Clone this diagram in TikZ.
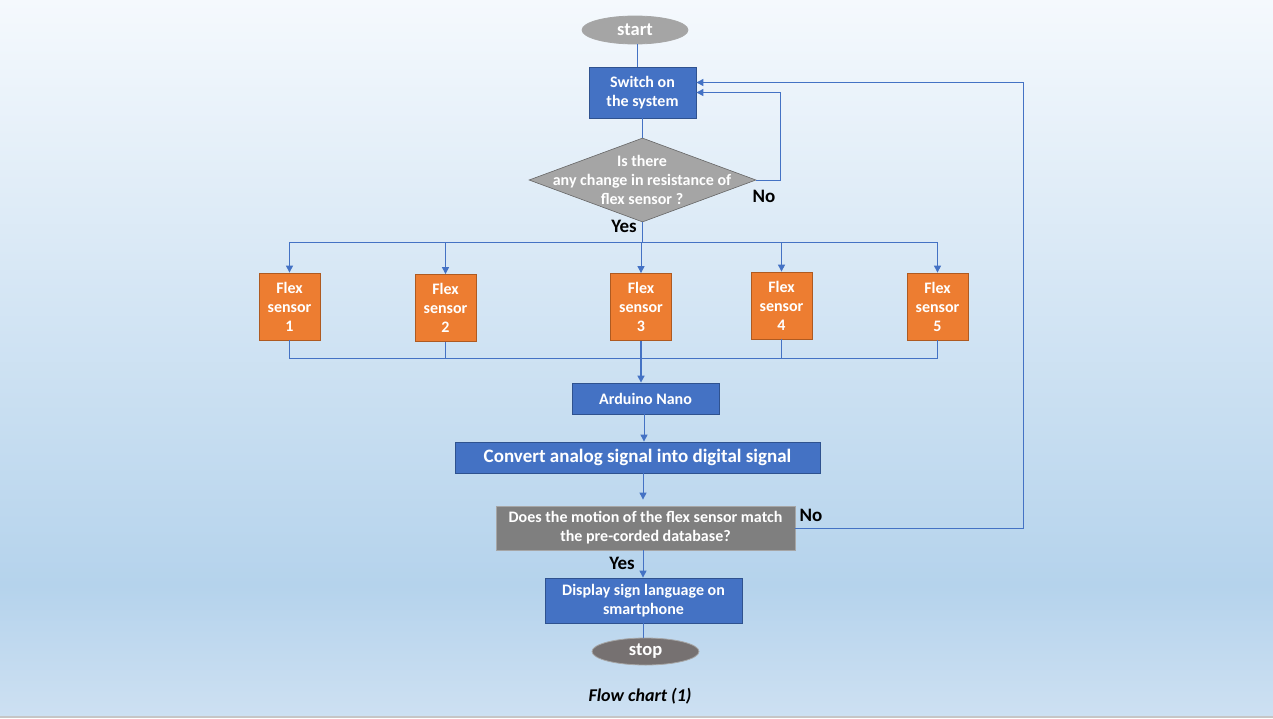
\documentclass[tikz,border=0pt]{standalone}
\usepackage{fontspec}
\setmainfont{Carlito}
\usetikzlibrary{shapes.geometric,arrows.meta,calc}
\definecolor{bgtop}{HTML}{F5F9FD}
\definecolor{bgmid}{HTML}{B5D3EC}
\definecolor{bgbot}{HTML}{CDE0F2}
\definecolor{cblue}{HTML}{4472C4}
\definecolor{cbluedk}{HTML}{2F528F}
\definecolor{corange}{HTML}{ED7D31}
\definecolor{corangedk}{HTML}{AE5A21}
\definecolor{cgray}{HTML}{A5A5A5}
\definecolor{cgraydk}{HTML}{7F7F7F}
\definecolor{cstop}{HTML}{767171}
\begin{document}
\begin{tikzpicture}[x=1pt,y=-1pt,
  lbl/.style={font=\fontsize{16}{19}\selectfont\bfseries, text=white, align=center},
  bluebox/.style={lbl, rectangle, fill=cblue, draw=cbluedk, line width=0.8pt, inner sep=0},
  sensor/.style={lbl, rectangle, fill=corange, draw=corangedk, line width=0.8pt, minimum width=61, minimum height=67, inner sep=0},
  term/.style={ellipse, draw=gray!70, line width=0.8pt, font=\fontsize{18.5}{21}\selectfont\bfseries, text=white, inner sep=0},
  conn/.style={draw=cblue, line width=1pt},
  arr/.style={conn, -{Triangle[width=7,length=7]}},
  ans/.style={font=\fontsize{19}{22}\selectfont\bfseries, text=black}]
% background
\shade[top color=bgtop, bottom color=bgmid] (0,0) rectangle (1273,585);
\shade[top color=bgmid, bottom color=bgbot] (0,585) rectangle (1273,716);
\fill[gray!45] (0,716) rectangle (1273,718);
\useasboundingbox (0,0) rectangle (1273,718);

% nodes
\node[term, fill=cgray, minimum width=106, minimum height=28] (start) at (635,30) {start};
\node[bluebox, minimum width=107, minimum height=51] (sw) at (642.5,92.5) {Switch on\\the system};
\node[diamond, fill=cgray, draw=gray!80!black, line width=0.6pt, minimum width=227, minimum height=84, inner sep=0] (dec1) at (642.5,180) {};
\node[lbl] (dec1t) at (642,180) {Is there\\any change in resistance of\\flex sensor ?};
\node[ans] (no1) at (764,196) {No};
\node[ans] (yes1) at (624,226) {Yes};
\coordinate (split) at (642.5,242);

\node[sensor] (s1) at (289.5,306.5) {Flex\\sensor\\1};
\node[sensor] (s2) at (445.5,308) {Flex\\sensor\\2};
\node[sensor] (s3) at (641,307) {Flex\\sensor\\3};
\node[sensor] (s4) at (781.5,305.5) {Flex\\sensor\\4};
\node[sensor] (s5) at (937.5,306.5) {Flex\\sensor\\5};
\coordinate (bus) at (641,358);

\node[bluebox, minimum width=147, minimum height=31] (ard) at (645.5,398.5) {Arduino Nano};
\node[bluebox, minimum width=365, minimum height=31, font=\fontsize{19}{22}\selectfont\bfseries] (conv) at (637.5,457.5) {Convert analog signal into digital signal};
\node[lbl, rectangle, fill=cgraydk, draw=gray!70, line width=0.8pt, minimum width=299, minimum height=44, inner sep=0] (dec2) at (645.5,528) {Does the motion of the flex sensor match\\the pre-corded database?};
\node[ans] (no2) at (811,515) {No};
\node[ans] (yes2) at (622,563) {Yes};
\coordinate (rr) at (1023,528);
\node[bluebox, minimum width=197, minimum height=45] (disp) at (643.5,600.5) {Display sign language on\\smartphone};
\node[term, fill=cstop, minimum width=107, minimum height=27] (stop) at (645.5,651.5) {stop};
\node[font=\fontsize{18}{21}\selectfont\bfseries\itshape] (cap) at (640,696) {Flow chart (1)};

% connectors
\coordinate (c1) at (637,44);
\draw[conn] (c1 |- start.south) -- (c1 |- sw.north);
\draw[conn] (dec1.north |- sw.south) -- (dec1.north);
\draw[arr] (dec1.east) -- ++(24,0) |- (sw.east);
\draw[conn] (dec1.south) -- (split);
\draw[conn] (s1.north |- split) -- (s5.north |- split);
\foreach \s in {s1,s2,s3,s4,s5} \draw[arr] (\s.north |- split) -- (\s.north);
\draw[conn] (s1.south) |- (s5.south |- bus) -- (s5.south);
\draw[conn] (s2.south) -- (s2.south |- bus);
\draw[conn] (s4.south) -- (s4.south |- bus);
\draw[arr, line width=1.5pt] (s3.south) -- (s3.south |- ard.north);
\coordinate (c2) at (644,420);
\draw[arr] (c2 |- ard.south) -- (c2 |- conv.north);
\coordinate (c3) at (643,480);
\draw[arr] (c3 |- conv.south) -- ([yshift=6]c3 |- dec2.north);
\draw[arr] (dec2.east) -- (rr) |- ([yshift=10]sw.east);
\draw[arr] (c3 |- dec2.south) -- (c3 |- disp.north);
\draw[conn] (c3 |- disp.south) -- (c3 |- stop.north);
\end{tikzpicture}
\end{document}
